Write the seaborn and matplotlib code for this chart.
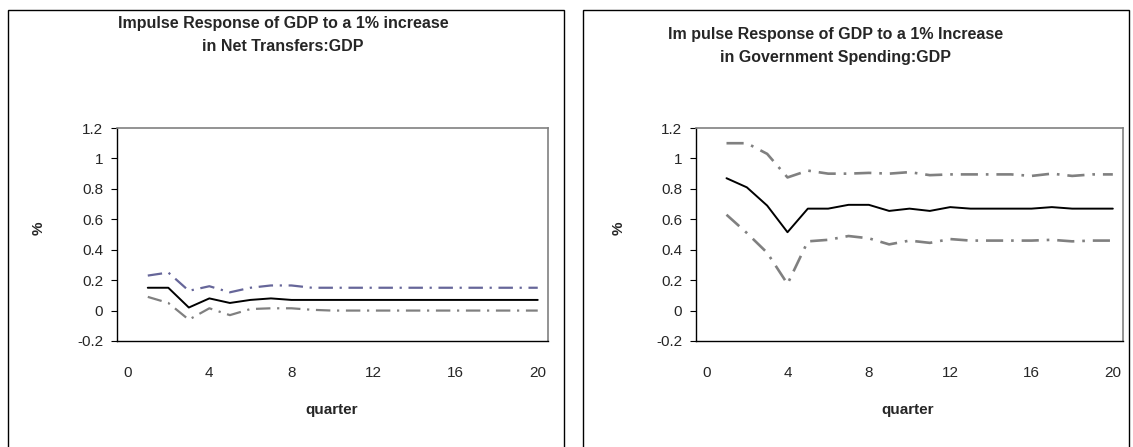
import numpy as np
import pandas as pd
import matplotlib
matplotlib.use("Agg")
import matplotlib.pyplot as plt
from matplotlib.patches import Rectangle
import seaborn as sns

sns.set_style("white")
plt.rcParams['font.family'] = ['Liberation Sans', 'DejaVu Sans']

quarters = list(range(1, 21))

# Left chart: Net Transfers
nt_mid = [0.15, 0.15, 0.02, 0.08, 0.05, 0.07, 0.08, 0.07, 0.07, 0.07,
          0.07, 0.07, 0.07, 0.07, 0.07, 0.07, 0.07, 0.07, 0.07, 0.07]
nt_up = [0.23, 0.25, 0.13, 0.16, 0.12, 0.15, 0.165, 0.165, 0.15, 0.15,
         0.15, 0.15, 0.15, 0.15, 0.15, 0.15, 0.15, 0.15, 0.15, 0.15]
nt_lo = [0.09, 0.05, -0.06, 0.015, -0.03, 0.01, 0.015, 0.015, 0.005, 0.0,
         0.0, 0.0, 0.0, 0.0, 0.0, 0.0, 0.0, 0.0, 0.0, 0.0]

# Right chart: Government Spending
gs_mid = [0.87, 0.81, 0.69, 0.515, 0.67, 0.67, 0.695, 0.695, 0.655, 0.67,
          0.655, 0.68, 0.67, 0.67, 0.67, 0.67, 0.68, 0.67, 0.67, 0.67]
gs_up = [1.10, 1.10, 1.03, 0.875, 0.92, 0.90, 0.90, 0.905, 0.90, 0.91,
         0.89, 0.895, 0.895, 0.895, 0.895, 0.885, 0.90, 0.885, 0.895, 0.895]
gs_lo = [0.63, 0.51, 0.38, 0.175, 0.455, 0.465, 0.49, 0.475, 0.435, 0.46,
         0.445, 0.47, 0.46, 0.46, 0.46, 0.46, 0.465, 0.455, 0.46, 0.46]

titles = ["Impulse Response of GDP to a 1% increase\nin Net Transfers:GDP",
          "Im pulse Response of GDP to a 1% Increase\nin Government Spending:GDP"]
yticks = [-0.2, 0, 0.2, 0.4, 0.6, 0.8, 1, 1.2]
ytick_labels = ["-0.2", "0", "0.2", "0.4", "0.6", "0.8", "1", "1.2"]
xticks = [0, 4, 8, 12, 16, 20]

W, H = 1133, 447
fig = plt.figure(figsize=(W / 100, H / 100), dpi=100)

def fx(px):
    return px / W

def fy(py):
    return 1 - py / H

# outer chart boxes
for (x0, x1) in [(8, 564), (583, 1129)]:
    fig.patches.append(Rectangle((fx(x0), fy(452)), fx(x1 - x0), fy(10) - fy(452),
                                 transform=fig.transFigure, fill=False,
                                 edgecolor='black', linewidth=1.0, zorder=0))

ax_specs = [
    dict(rect=(117, 128, 548, 341), mid=nt_mid, up=nt_up, lo=nt_lo,
         upcol='#666699', locol='#808080', lw=1.6,
         title_xy=(283, 35), ylab_x=39, xlab_x=332),
    dict(rect=(696, 128, 1123, 341), mid=gs_mid, up=gs_up, lo=gs_lo,
         upcol='#808080', locol='#808080', lw=1.9,
         title_xy=(836, 46), ylab_x=619, xlab_x=908),
]

for i, spec in enumerate(ax_specs):
    l, t, r, b = spec['rect']
    ax = fig.add_axes([fx(l), fy(b), fx(r - l), fy(t) - fy(b)])
    df = pd.DataFrame({'quarter': quarters, 'mid': spec['mid'],
                       'up': spec['up'], 'lo': spec['lo']})
    sns.lineplot(data=df, x='quarter', y='up', ax=ax, color=spec['upcol'],
                 linewidth=spec['lw'], dashes=False)
    ax.lines[-1].set_dashes((6.5, 3, 1, 3))
    sns.lineplot(data=df, x='quarter', y='lo', ax=ax, color=spec['locol'],
                 linewidth=spec['lw'], dashes=False)
    ax.lines[-1].set_dashes((6.5, 3, 1, 3))
    sns.lineplot(data=df, x='quarter', y='mid', ax=ax, color='black',
                 linewidth=1.4)
    ax.set_xlim(-0.5, 20.5)
    ax.set_ylim(-0.2, 1.2)
    ax.set_yticks(yticks)
    ax.set_yticklabels(ytick_labels, fontsize=11)
    ax.set_xticks(xticks)
    ax.set_xticklabels([str(v) for v in xticks], fontsize=11)
    ax.tick_params(axis='y', direction='out', length=4, width=0.8, color='black',
                   pad=6, left=True)
    ax.tick_params(axis='x', length=0, pad=18)
    ax.set_xlabel('')
    ax.set_ylabel('')
    for side in ['left', 'bottom']:
        ax.spines[side].set_color('black')
        ax.spines[side].set_linewidth(1.0)
    for side in ['top', 'right']:
        ax.spines[side].set_color('#808080')
        ax.spines[side].set_linewidth(1.2)
    tx, ty = spec['title_xy']
    fig.text(fx(tx), fy(ty), titles[i], ha='center', va='center',
             fontsize=11.5, fontweight='bold', linespacing=1.6)
    fig.text(fx(spec['ylab_x']), fy(228), '%', ha='center', va='center',
             rotation=90, fontsize=11, fontweight='bold')
    fig.text(fx(spec['xlab_x']), fy(410), 'quarter', ha='center', va='center',
             fontsize=11, fontweight='bold')

fig.savefig('out.png', dpi=100)
